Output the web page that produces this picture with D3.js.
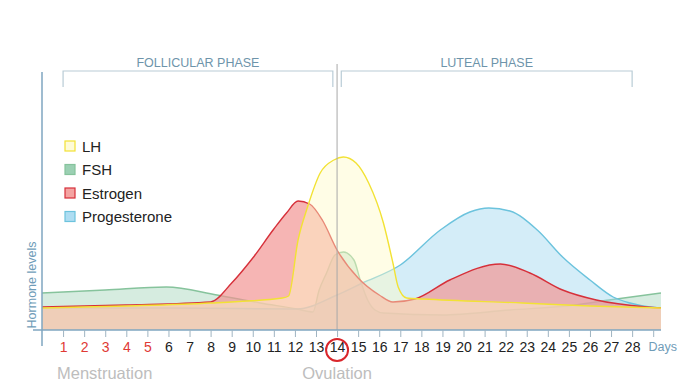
<!DOCTYPE html>
<meta charset="utf-8">
<style>
body { margin: 0; background: #fff; font-family: "Liberation Sans", Arial, sans-serif; }
</style>
<body>
<script src="https://cdn.jsdelivr.net/npm/d3@7"></script>
<script>

const width = 684, height = 386;

// cycle days shown on the axis ("Days" sits on the last tick)
const days = d3.range(1, 30);
const menstruationDays = [1, 2, 3, 4, 5];
const ovulationDay = 14;

// hormone levels: [day, level]
const fsh = [[0, 18.5], [3, 20], [5.9, 21.5], [8.3, 17.5], [10.35, 13.5], [12.1, 10.5], [12.85, 9],
  [13.15, 20], [13.5, 28.5], [13.9, 37.5], [14.3, 39], [14.8, 35], [15.1, 25], [15.45, 15],
  [15.8, 10], [16.2, 8.5], [19, 7.5], [22.2, 10], [25.3, 12.5], [26.9, 15], [29.37, 18.5]];

const progesterone = [[0, 11], [6, 11], [12.1, 10.5], [14, 17.5], [15.2, 23.5], [17, 32.5],
  [18.9, 50], [20.3, 59], [21.2, 61], [22.2, 59.5], [23.5, 50], [24.7, 36.5], [26, 25],
  [27.1, 16.5], [27.9, 13.5], [28.85, 11.5], [29.37, 11]];

const estrogen = [[0, 11.5], [4, 12.5], [8, 14], [9, 23.5], [10, 36], [11, 50.5], [11.6, 58.5],
  [12.15, 64.5], [12.7, 63], [13.3, 55], [14, 40], [15, 26], [16, 17.5], [16.65, 14], [17.7, 15.5],
  [19.35, 25], [21.75, 33], [23.15, 28.5], [24.7, 20], [26.3, 15], [28.7, 11.5], [29.37, 11]];

const lh = [[0, 11], [4, 12], [8, 13.5], [11.4, 16], [11.7, 17], [12.15, 45], [12.6, 61.5],
  [13.2, 78.5], [13.85, 85], [14.3, 86.5], [14.9, 83.5], [15.5, 73.5], [16.2, 53.5],
  [16.65, 33.5], [16.9, 21.5], [17.3, 16], [18.1, 15.5], [22.8, 13.5], [26, 12], [29.37, 11]];

const hormones = [
  {name: "FSH", values: fsh, fill: "rgb(138,200,166)", op: 0.35, stroke: "#86c39c"},
  {name: "Progesterone", values: progesterone, fill: "rgb(160,215,240)", op: 0.45, stroke: "#6cc3dd"},
  {name: "Estrogen", values: estrogen, fill: "rgb(242,148,146)", op: 0.69, stroke: "#d6303a"},
  {name: "LH", values: lh, fill: "rgb(254,250,199)", op: 0.44, stroke: "#f2e234"}
];
const legendOrder = ["LH", "FSH", "Estrogen", "Progesterone"];

const phases = [
  {name: "FOLLICULAR PHASE", from: 1, to: 13.8},
  {name: "LUTEAL PHASE", from: 14.2, to: 28}
];

const x = d3.scaleLinear().domain([0, 29.37]).range([42, 661]);
const y = d3.scaleLinear().domain([0, 100]).range([330, 130]);

const svg = d3.select("body").append("svg")
    .attr("width", width)
    .attr("height", height);

const area = d3.area()
    .curve(d3.curveMonotoneX)
    .x(d => x(d[0]))
    .y0(y(0))
    .y1(d => y(d[1]));

const line = d3.line()
    .curve(d3.curveMonotoneX)
    .x(d => x(d[0]))
    .y(d => y(d[1]));

hormones.forEach(h => {
  svg.append("path")
      .attr("d", area(h.values))
      .attr("fill", h.fill)
      .attr("fill-opacity", h.op);
  svg.append("path")
      .attr("d", line(h.values))
      .attr("fill", "none")
      .attr("stroke", h.stroke)
      .attr("stroke-width", 1.4);
});

// ovulation line
svg.append("line")
    .attr("x1", x(ovulationDay)).attr("x2", x(ovulationDay))
    .attr("y1", 64).attr("y2", y(0))
    .attr("stroke", "#a9a9a9")
    .attr("stroke-width", 1);

// axes
svg.append("line")
    .attr("x1", 42).attr("x2", 42)
    .attr("y1", 72).attr("y2", 346)
    .attr("stroke", "#7fa6c0").attr("stroke-width", 1.5);

svg.append("line")
    .attr("x1", 33).attr("x2", x(29.37))
    .attr("y1", y(0)).attr("y2", y(0))
    .attr("stroke", "#7fa6c0").attr("stroke-width", 1.5);

const xAxis = d3.axisBottom(x)
    .tickValues(days)
    .tickSize(7)
    .tickPadding(5)
    .tickFormat(d => d === 29 ? "Days" : d);

const gx = svg.append("g")
    .attr("transform", `translate(0,${y(0)})`)
    .call(xAxis);

gx.select(".domain").remove();
gx.selectAll(".tick line").attr("stroke", "#9fb4c2");
gx.selectAll(".tick text")
    .attr("font-family", "Liberation Sans, Arial, sans-serif")
    .attr("font-size", 14)
    .attr("fill", d => d === 29 ? "#6f9cb8" : menstruationDays.includes(d) ? "#e03a35" : "#222");
gx.selectAll(".tick text").filter(d => d === 29)
    .attr("font-size", 12.5)
    .attr("dx", 9);

svg.append("circle")
    .attr("cx", x(ovulationDay))
    .attr("cy", y(0) + 20)
    .attr("r", 11)
    .attr("fill", "none")
    .attr("stroke", "#d9262b")
    .attr("stroke-width", 2);

svg.append("text")
    .attr("x", 57).attr("y", 379)
    .attr("font-size", 16.5)
    .attr("fill", "#bdbdbd")
    .text("Menstruation");

svg.append("text")
    .attr("x", x(ovulationDay)).attr("y", 379)
    .attr("text-anchor", "middle")
    .attr("font-size", 16.5)
    .attr("fill", "#bdbdbd")
    .text("Ovulation");

svg.append("text")
    .attr("transform", "translate(36,285) rotate(-90)")
    .attr("text-anchor", "middle")
    .attr("font-size", 12.5)
    .attr("fill", "#6f9cb8")
    .text("Hormone levels");

// phase brackets
phases.forEach(p => {
  const x0 = x(p.from), x1 = x(p.to);
  svg.append("path")
      .attr("d", `M${x0},87V71H${x1}V87`)
      .attr("fill", "none")
      .attr("stroke", "#b9ccd6")
      .attr("stroke-width", 1.2);
  svg.append("text")
      .attr("x", (x0 + x1) / 2).attr("y", 67)
      .attr("text-anchor", "middle")
      .attr("font-size", 12.5)
      .attr("fill", "#6e94aa")
      .text(p.name);
});

// legend
const legend = svg.selectAll("g.legend")
    .data(legendOrder.map(n => hormones.find(h => h.name === n)))
    .enter().append("g")
    .attr("class", "legend")
    .attr("transform", (d, i) => `translate(65,${146 + i * 23.5})`);

legend.append("rect")
    .attr("x", 0).attr("y", -5)
    .attr("width", 10).attr("height", 10)
    .attr("fill", d => d.fill)
    .attr("fill-opacity", d => d.name === "LH" ? 0.7 : 0.85)
    .attr("stroke", d => d.stroke)
    .attr("stroke-width", 1.2);

legend.append("text")
    .attr("x", 17).attr("y", 5.5)
    .attr("font-size", 15)
    .attr("fill", "#222")
    .text(d => d.name);

</script>
